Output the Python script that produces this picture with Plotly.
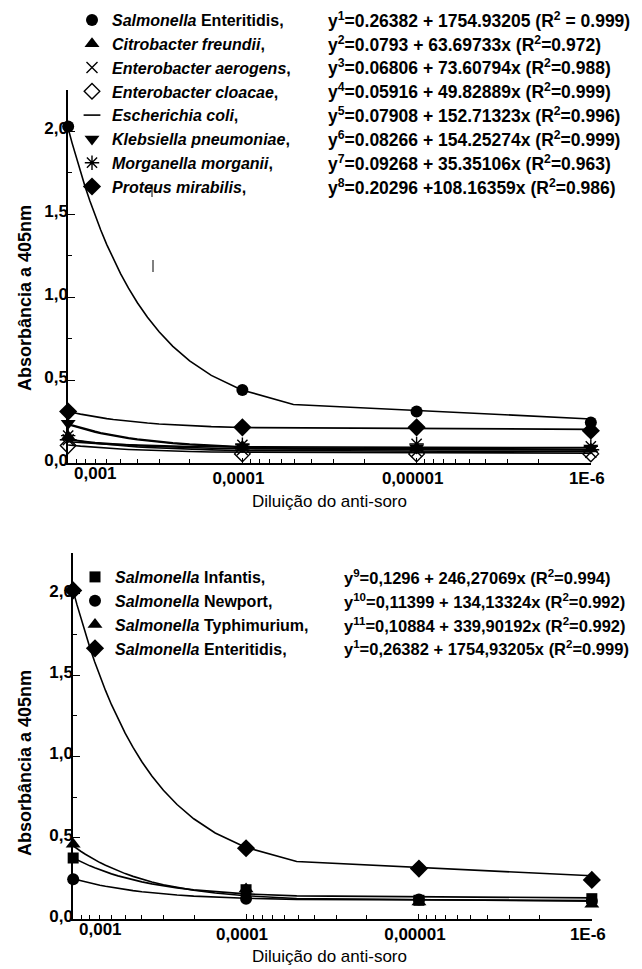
import numpy as np
import plotly.graph_objects as go

W, H = 642, 969
FONT = "Liberation Sans, Arial, sans-serif"

# ---------------- data ----------------
dilutions = [1e-3, 1e-4, 1e-5, 1e-6]
x_tick_vals = [1e-3, 1e-4, 1e-5, 1e-6]
x_tick_text = ["0,001", "0,0001", "0,00001", "1E-6"]
y_tick_vals = [0.0, 0.5, 1.0, 1.5, 2.0]
y_tick_text = ["0,0", "0,5", "1,0", "1,5", "2,0"]

# top panel observations (absorbance at 405 nm)
s_enteritidis = [2.03, 0.44, 0.31, 0.245]
c_freundii = [0.16, 0.10, 0.09, 0.085]
e_aerogens = [0.14, 0.08, 0.07, 0.065]
e_cloacae = [0.105, 0.055, 0.055, 0.055]
e_coli = [0.14, 0.09, 0.085, 0.08]
k_pneumoniae = [0.24, 0.10, 0.09, 0.09]
m_morganii = [0.165, 0.11, 0.115, 0.10]
p_mirabilis = [0.31, 0.215, 0.215, 0.195]

top_names = ["<i>Salmonella</i> Enteritidis,", "<i>Citrobacter freundii</i>,",
             "<i>Enterobacter aerogens</i>,", "<i>Enterobacter cloacae</i>,",
             "<i>Escherichia coli</i>,", "<i>Klebsiella pneumoniae</i>,",
             "<i>Morganella morganii</i>,", "<i>Proteus mirabilis</i>,"]
top_values = [s_enteritidis, c_freundii, e_aerogens, e_cloacae,
              e_coli, k_pneumoniae, m_morganii, p_mirabilis]
top_intercepts = [0.26382, 0.0793, 0.06806, 0.05916, 0.07908, 0.08266, 0.09268, 0.20296]
top_slopes = [1754.93205, 63.69733, 73.60794, 49.82889, 152.71323, 154.25274, 35.35106, 108.16359]
top_equations = [
    "y<sup>1</sup>=0.26382 + 1754.93205 (R<sup>2</sup> = 0.999)",
    "y<sup>2</sup>=0.0793 + 63.69733x (R<sup>2</sup>=0.972)",
    "y<sup>3</sup>=0.06806 + 73.60794x (R<sup>2</sup>=0.988)",
    "y<sup>4</sup>=0.05916 + 49.82889x (R<sup>2</sup>=0.999)",
    "y<sup>5</sup>=0.07908 + 152.71323x (R<sup>2</sup>=0.996)",
    "y<sup>6</sup>=0.08266 + 154.25274x (R<sup>2</sup>=0.999)",
    "y<sup>7</sup>=0.09268 + 35.35106x (R<sup>2</sup>=0.963)",
    "y<sup>8</sup>=0.20296 +108.16359x (R<sup>2</sup>=0.986)",
]

# bottom panel observations
s_infantis = [0.375, 0.18, 0.115, 0.125]
s_newport = [0.245, 0.125, 0.12, 0.11]
s_typhimurium = [0.46, 0.185, 0.105, 0.09]
s_enteritidis_b = [2.02, 0.435, 0.31, 0.24]

bot_names = ["<i>Salmonella</i> Infantis,", "<i>Salmonella</i> Newport,",
             "<i>Salmonella</i> Typhimurium,", "<i>Salmonella</i> Enteritidis,"]
bot_values = [s_infantis, s_newport, s_typhimurium, s_enteritidis_b]
bot_intercepts = [0.1296, 0.11399, 0.10884, 0.26382]
bot_slopes = [246.27069, 134.13324, 339.90192, 1754.93205]
bot_equations = [
    "y<sup>9</sup>=0,1296 + 246,27069x (R<sup>2</sup>=0.994)",
    "y<sup>10</sup>=0,11399 + 134,13324x (R<sup>2</sup>=0.992)",
    "y<sup>11</sup>=0,10884 + 339,90192x (R<sup>2</sup>=0.992)",
    "y<sup>1</sup>=0,26382 + 1754,93205x (R<sup>2</sup>=0.999)",
]

# ---------------- styles ----------------
top_markers = [
    dict(symbol="circle", size=12, color="black"),
    dict(symbol="triangle-up", size=13, color="black"),
    dict(symbol="x-thin-open", size=11, color="black", line=dict(width=1.4, color="black")),
    dict(symbol="diamond-open", size=12, color="black", line=dict(width=1.4, color="black")),
    dict(symbol="line-ew-open", size=12, color="black", line=dict(width=1.6, color="black")),
    dict(symbol="triangle-down", size=13, color="black"),
    dict(symbol="asterisk-open", size=12, color="black", line=dict(width=1.4, color="black")),
    dict(symbol="diamond", size=14, color="black"),
]
bot_markers = [
    dict(symbol="square", size=11, color="black"),
    dict(symbol="circle", size=12, color="black"),
    dict(symbol="triangle-up", size=13, color="black"),
    dict(symbol="diamond", size=14, color="black"),
]

fig = go.Figure()

# regression curves, sampled the way the original software drew them
x_fit = np.linspace(1e-6, 1e-3, 21)


def add_panel(values, names, markers, a_list, b_list, xa, ya, legend):
    for a, b in zip(a_list, b_list):
        fig.add_trace(go.Scatter(x=x_fit, y=a + b * x_fit, mode="lines",
                                 line=dict(color="black", width=1.6),
                                 xaxis=xa, yaxis=ya, showlegend=False,
                                 hoverinfo="skip", cliponaxis=False))
    for vals, name, mk in zip(values, names, markers):
        fig.add_trace(go.Scatter(x=dilutions, y=vals, mode="markers", name=name,
                                 marker=mk, xaxis=xa, yaxis=ya, legend=legend,
                                 cliponaxis=False))


add_panel(top_values, top_names, top_markers, top_intercepts, top_slopes, "x", "y", "legend")
add_panel(bot_values, bot_names, bot_markers, bot_intercepts, bot_slopes, "x2", "y2", "legend2")


def px_x(v):
    return v / W


def px_y(v):
    return 1 - v / H


minor_x = [k * 10.0 ** e for e in (-4, -5, -6) for k in range(2, 10)]
minor_y = [0.25, 0.75, 1.25, 1.75, 2.25]
tick_font = dict(family=FONT, size=17, color="black", weight="bold")

# the first x label is drawn shifted right of its tick (next to the y axis), as in the original
x_tick_text_shown = [""] + x_tick_text[1:]

xaxis_common = dict(type="log", range=[-2.999, -6.001], tickmode="array", tickvals=x_tick_vals,
                    ticktext=x_tick_text_shown, ticks="inside", ticklen=5, tickwidth=1.2,
                    tickcolor="black", showline=True, linecolor="black", linewidth=1.5,
                    showgrid=False, zeroline=False, automargin=False, tickfont=tick_font,
                    ticklabelstandoff=-1, ticklabelshift=4,
                    minor=dict(tickmode="array", tickvals=minor_x, ticks="inside", ticklen=4,
                               tickwidth=1.0, tickcolor="black", showgrid=False))
yaxis_common = dict(range=[0, 2.25], tickmode="array", tickvals=y_tick_vals, ticktext=y_tick_text,
                    ticks="inside", ticklen=7, tickwidth=1.2, tickcolor="black",
                    showline=True, linecolor="black", linewidth=1.5, showgrid=False,
                    zeroline=False, automargin=False, tickfont=tick_font,
                    ticklabelstandoff=-5, ticklabelshift=-3,
                    minor=dict(tickmode="array", tickvals=minor_y, ticks="inside", ticklen=4,
                               tickwidth=1.0, tickcolor="black", showgrid=False))

LEG_SIZE = 16
legend_common = dict(font=dict(family=FONT, size=LEG_SIZE, color="black", weight="bold"),
                     bgcolor="rgba(0,0,0,0)", borderwidth=0, xanchor="left", yanchor="top",
                     tracegroupgap=0, itemclick=False, itemdoubleclick=False)

TOP_LEG = -5
BOT_LEG = 552

fig.update_layout(
    width=W, height=H, margin=dict(l=0, r=0, t=0, b=0, autoexpand=False), autosize=False,
    paper_bgcolor="white", plot_bgcolor="white",
    font=dict(family=FONT, color="black"),
    xaxis=dict(domain=[px_x(60), px_x(583)], anchor="y", **xaxis_common),
    yaxis=dict(domain=[px_y(455), px_y(82)], anchor="x", **yaxis_common),
    xaxis2=dict(domain=[px_x(65), px_x(584)], anchor="y2", **xaxis_common),
    yaxis2=dict(domain=[px_y(911), px_y(545)], anchor="x2", **yaxis_common),
    legend=dict(x=px_x(64), y=px_y(TOP_LEG), **legend_common),
    legend2=dict(x=px_x(67), y=px_y(BOT_LEG), **legend_common),
)

annotations = []
row_h = LEG_SIZE * 1.3 + 3
for i, eq in enumerate(top_equations):
    annotations.append(dict(text=eq, x=px_x(318), y=px_y(TOP_LEG + 5 + row_h * (i + 0.5)),
                            xref="paper", yref="paper", xanchor="left", yanchor="middle",
                            showarrow=False,
                            font=dict(family=FONT, size=17.5, color="black", weight="bold")))
for i, eq in enumerate(bot_equations):
    annotations.append(dict(text=eq, x=px_x(334), y=px_y(BOT_LEG + 5 + row_h * (i + 0.5)),
                            xref="paper", yref="paper", xanchor="left", yanchor="middle",
                            showarrow=False,
                            font=dict(family=FONT, size=16.5, color="black", weight="bold")))

# first x tick label of each panel
for xr, yr in (("x", "y"), ("x2", "y2")):
    annotations.append(dict(text=x_tick_text[0], x=float(np.log10(x_tick_vals[0])), y=0,
                            xref=xr, yref=yr, xanchor="center", yanchor="middle",
                            xshift=27, yshift=-10, showarrow=False, font=tick_font))

ytitle_font = dict(family=FONT, size=18, color="black", weight="bold")
xtitle_font = dict(family=FONT, size=17, color="black")
for yc in (290, 755):
    annotations.append(dict(text="Absorbância a 405nm", x=px_x(17), y=px_y(yc), xref="paper",
                            yref="paper", textangle=-90, showarrow=False, font=ytitle_font,
                            xanchor="center", yanchor="middle"))
for yc in (493, 948):
    annotations.append(dict(text="Diluição do anti-soro", x=px_x(322), y=px_y(yc), xref="paper",
                            yref="paper", showarrow=False, font=xtitle_font,
                            xanchor="center", yanchor="middle"))
fig.update_layout(annotations=annotations)

# small stray marks present in the original figure
fig.add_shape(type="line", xref="paper", yref="paper", x0=px_x(145), x1=px_x(145),
              y0=px_y(252), y1=px_y(264), line=dict(color="black", width=1))
fig.add_shape(type="line", xref="paper", yref="paper", x0=px_x(144), x1=px_x(144),
              y0=px_y(176), y1=px_y(189), line=dict(color="black", width=1))

fig.write_html("out.html")
